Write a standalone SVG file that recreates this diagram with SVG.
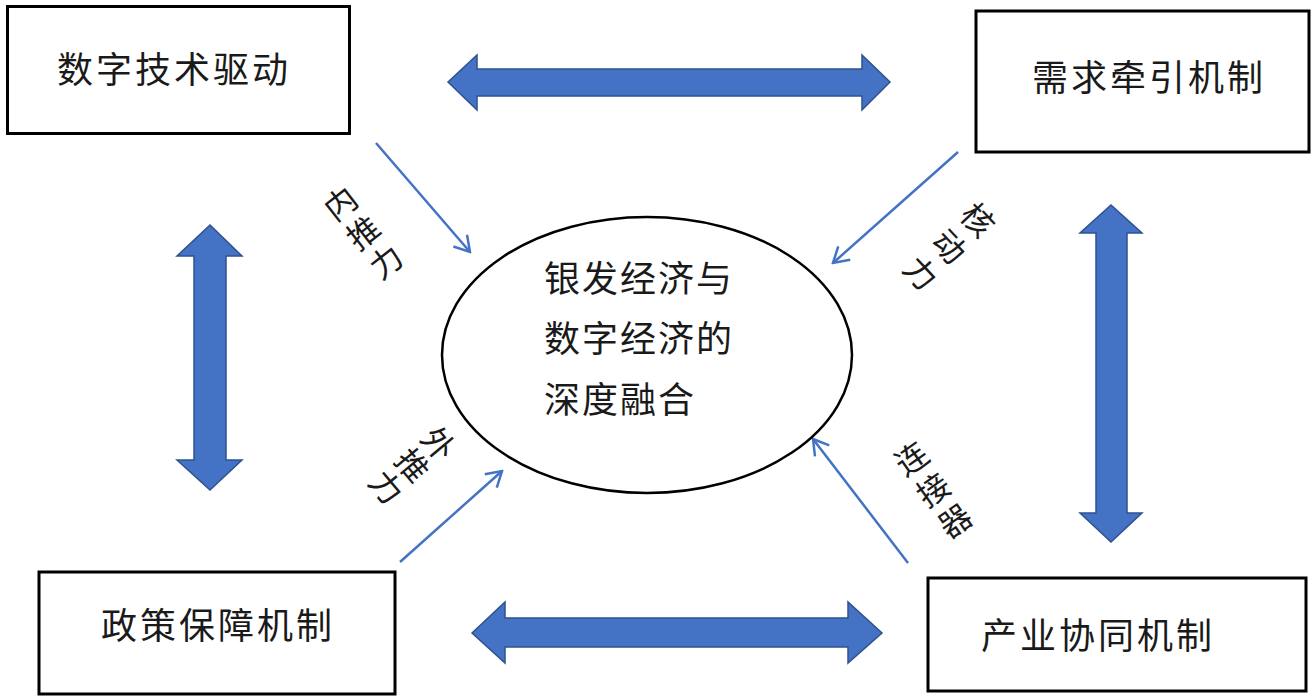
<svg xmlns="http://www.w3.org/2000/svg" width="1315" height="697" viewBox="0 0 1315 697">
<defs>
<style>
.box{fill:#fff;stroke:#000;stroke-width:3}
.lbl{font-family:"Noto Sans CJK SC","Noto Sans",sans-serif;font-size:36px;fill:#1a1a1a;dominant-baseline:central;letter-spacing:3px}
.ctr{font-family:"Noto Sans CJK SC","Noto Sans",sans-serif;font-size:36px;fill:#1a1a1a;dominant-baseline:central;letter-spacing:2px}
.rot{font-family:"Noto Sans CJK SC","Noto Sans",sans-serif;font-size:32px;fill:#1a1a1a;dominant-baseline:central;text-anchor:middle}
.thick{fill:#4472C4;stroke:#2F528F;stroke-width:1.5}
.thin{stroke:#4472C4;stroke-width:2.5;fill:none;marker-end:url(#open)}
</style>
<marker id="open" markerUnits="userSpaceOnUse" viewBox="-18 -11 20 22" markerWidth="20" markerHeight="22" refX="0" refY="0" orient="auto">
<path d="M -15 -9 L 0 0 L -15 9" fill="none" stroke="#4472C4" stroke-width="2.5"/>
</marker>
</defs>

<g id="connectors">
<polygon class="thick" points="448,82 477,55 477,69 862,69 862,55 890,82 862,110 862,96 477,96 477,110"/>
<polygon class="thick" points="472,633 505,602 505,618 848,618 848,602 882,633 848,663 848,647 505,647 505,663"/>
<polygon class="thick" points="210,225 242,256 226,256 226,460 242,460 210,490 177,460 194,460 194,256 177,256"/>
<polygon class="thick" points="1111,205 1142,233 1127,233 1127,513 1142,513 1111,542 1080,513 1096,513 1096,233 1080,233"/>
<line class="thin" x1="376" y1="143" x2="470" y2="252"/>
<line class="thin" x1="958" y1="152" x2="833" y2="263"/>
<line class="thin" x1="400" y1="562" x2="502" y2="471"/>
<line class="thin" x1="908" y1="563" x2="813" y2="439"/>
<g transform="translate(362,231) rotate(-38)"><text class="rot"><tspan x="0" y="-37">内</tspan><tspan x="0" y="0">推</tspan><tspan x="0" y="37">力</tspan></text></g>
<g transform="translate(951,245) rotate(47)"><text class="rot"><tspan x="0" y="-39">核</tspan><tspan x="0" y="0">动</tspan><tspan x="0" y="39">力</tspan></text></g>
<g transform="translate(414,464) rotate(50)"><text class="rot"><tspan x="0" y="-34">外</tspan><tspan x="0" y="0">推</tspan><tspan x="0" y="34">力</tspan></text></g>
<g transform="translate(932,488) rotate(-35)"><text class="rot"><tspan x="0" y="-38">连</tspan><tspan x="0" y="0">接</tspan><tspan x="0" y="38">器</tspan></text></g>
</g>

<g id="node-digital">
<rect class="box" x="7.5" y="6.5" width="342" height="127"/>
<text class="lbl" x="57" y="67">数字技术驱动</text>
</g>
<g id="node-demand">
<rect class="box" x="976" y="11" width="333" height="141"/>
<text class="lbl" x="1032" y="75">需求牵引机制</text>
</g>
<g id="node-policy">
<rect class="box" x="39" y="572" width="356" height="122"/>
<text class="lbl" x="101" y="623">政策保障机制</text>
</g>
<g id="node-industry">
<rect class="box" x="928" y="578" width="378" height="113"/>
<text class="lbl" x="981" y="633">产业协同机制</text>
</g>
<g id="node-center">
<ellipse cx="647" cy="355" rx="205" ry="138" fill="#fff" stroke="#000" stroke-width="2.5"/>
<text class="ctr" x="544" y="276">银发经济与</text>
<text class="ctr" x="544" y="336">数字经济的</text>
<text class="ctr" x="544" y="397">深度融合</text>
</g>
</svg>
